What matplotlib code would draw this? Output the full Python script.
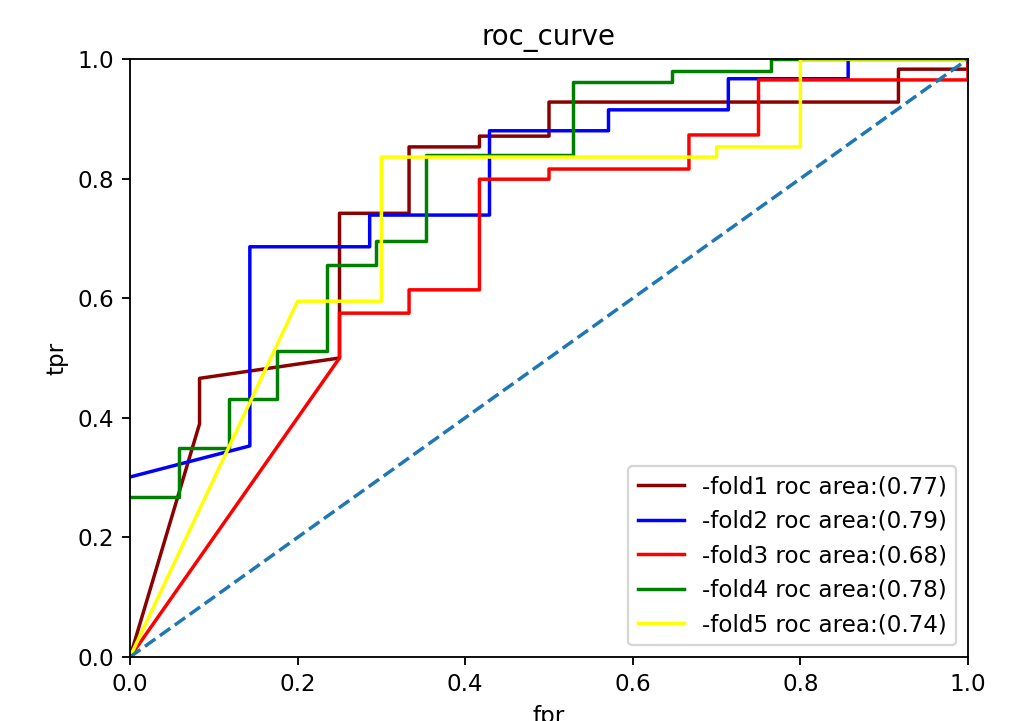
import numpy as np
import matplotlib.pyplot as plt

# roc points, one pair of lists per fold
fpr1 = [0.0, 0.083, 0.083, 0.25, 0.25, 0.333, 0.333, 0.417, 0.417, 0.5, 0.5, 0.917, 0.917, 1.0, 1.0]
tpr1 = [0.0, 0.39, 0.466, 0.50, 0.742, 0.742, 0.853, 0.853, 0.871, 0.871, 0.928, 0.928, 0.983, 0.983, 1.0]

fpr2 = [0.0, 0.143, 0.143, 0.286, 0.286, 0.429, 0.429, 0.571, 0.571, 0.714, 0.714, 0.857, 0.857, 1.0]
tpr2 = [0.301, 0.353, 0.686, 0.686, 0.739, 0.739, 0.880, 0.880, 0.915, 0.915, 0.967, 0.967, 1.0, 1.0]

fpr3 = [0.0, 0.25, 0.25, 0.333, 0.333, 0.417, 0.417, 0.5, 0.5, 0.667, 0.667, 0.75, 0.75, 1.0, 1.0]
tpr3 = [0.0, 0.50, 0.575, 0.575, 0.614, 0.614, 0.799, 0.799, 0.816, 0.816, 0.873, 0.873, 0.965, 0.965, 1.0]

fpr4 = [0.0, 0.059, 0.059, 0.118, 0.118, 0.176, 0.176, 0.235, 0.235, 0.294, 0.294, 0.353, 0.353,
        0.529, 0.529, 0.647, 0.647, 0.765, 0.765, 1.0]
tpr4 = [0.268, 0.268, 0.349, 0.349, 0.431, 0.431, 0.512, 0.512, 0.655, 0.655, 0.695, 0.695, 0.839,
        0.839, 0.962, 0.962, 0.980, 0.980, 1.0, 1.0]

fpr5 = [0.0, 0.2, 0.3, 0.3, 0.7, 0.7, 0.8, 0.8, 1.0]
tpr5 = [0.0, 0.595, 0.595, 0.836, 0.836, 0.853, 0.853, 1.0, 1.0]

areas = [0.77, 0.79, 0.68, 0.78, 0.74]
colors = ["darkred", "blue", "red", "green", "yellow"]

dpi = 166
fig = plt.figure(figsize=(1014 / dpi, 721 / dpi), dpi=dpi)
ax = fig.add_axes([130 / 1014, 1 - 657 / 721, 838 / 1014, 598 / 721])

curves = [(fpr1, tpr1), (fpr2, tpr2), (fpr3, tpr3), (fpr4, tpr4), (fpr5, tpr5)]
for i, (f, t) in enumerate(curves):
    ax.plot(f, t, color=colors[i], label="-fold%d roc area:(%.2f)" % (i + 1, areas[i]))

ax.plot([0, 1], [0, 1], "--")
ax.set_xlim(0, 1)
ax.set_ylim(0, 1)
ax.set_xlabel("fpr")
ax.set_ylabel("tpr")
ax.set_title("roc_curve")
ax.legend(loc="lower right")

fig.savefig("out.png", dpi=dpi)
